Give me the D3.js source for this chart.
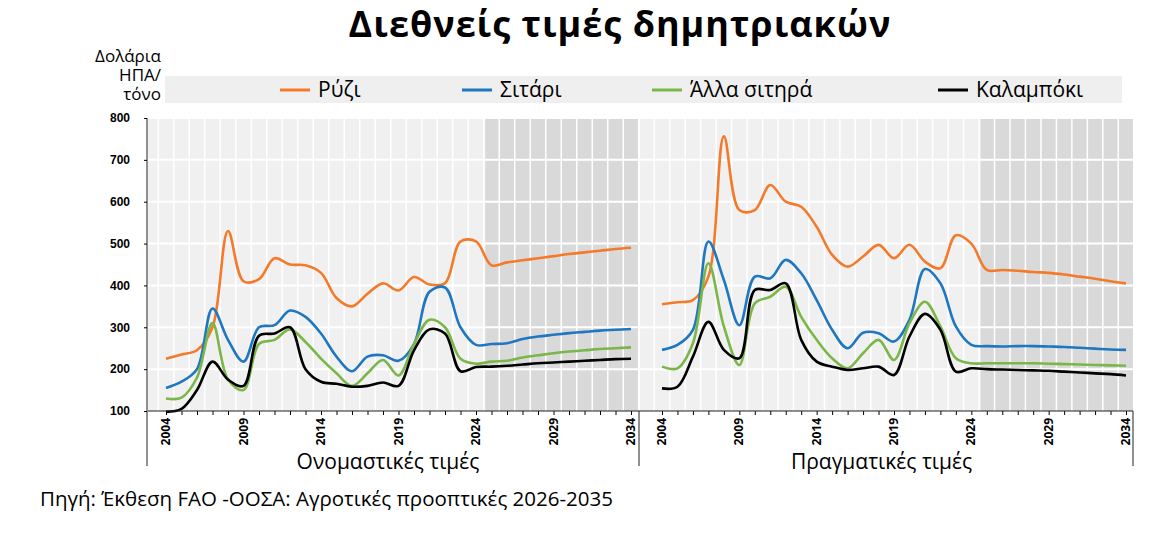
<!DOCTYPE html>
<html><head><meta charset="utf-8">
<script src="https://cdn.jsdelivr.net/npm/d3@7"></script>
<style>body{margin:0;background:#fff;font-family:"Open Sans",sans-serif}</style>
</head><body><svg id="c" width="1152" height="559"></svg>
<script>
const years = d3.range(2004, 2035);
const series = ['Ρύζι', 'Σιτάρι', 'Άλλα σιτηρά', 'Καλαμπόκι'];
const colors = ['#f47a2a', '#1f77c0', '#7ab648', '#000000'];
const yTicks = [100, 200, 300, 400, 500, 600, 700, 800];
const xTicks = [2004, 2009, 2014, 2019, 2024, 2029, 2034];

// nominal prices
const riceNom = [225,235,245,300,530,410,415,465,450,448,430,370,350,380,405,388,420,402,405,505,505,448,455,460,465,470,475,479,483,487,490];
const wheatNom = [155,170,200,345,270,218,300,305,340,325,285,230,195,230,233,220,260,385,395,300,258,260,262,272,278,282,286,289,292,294,296];
const otherNom = [130,132,180,310,175,150,260,270,295,265,225,190,160,190,222,185,260,318,300,225,213,218,220,228,233,238,242,245,248,250,252];
const maizeNom = [98,105,150,218,175,160,280,285,300,200,170,165,158,160,168,160,245,295,285,195,205,206,208,211,214,216,218,220,222,224,225];
// real prices
const riceReal = [355,360,365,421,756,580,580,640,600,588,540,473,445,469,497,465,497,457,441,520,500,437,437,435,432,430,426,421,416,410,405];
const wheatReal = [246,258,294,505,413,305,421,417,461,429,365,294,250,287,286,266,318,439,405,302,258,255,254,255,255,254,253,251,249,247,246];
const otherReal = [206,202,262,453,302,210,357,373,397,325,270,226,202,238,270,222,310,361,302,226,214,214,214,214,214,213,212,211,210,209,208];
const maizeReal = [154,158,230,313,246,226,389,389,405,270,218,206,198,202,206,186,278,332,294,194,202,200,199,198,197,196,194,192,190,188,185];

const svg = d3.select('#c');
svg.append('text').attr('x', 620).attr('y', 37).attr('text-anchor', 'middle')
  .style('font-size', '36px').style('font-weight', 'bold').style('letter-spacing', '1px')
  .text('Διεθνείς τιμές δημητριακών');

// unit label
['Δολάρια', 'ΗΠΑ/', 'τόνο'].forEach((t, i) => {
  svg.append('text').attr('x', 161).attr('y', 62 + i * 19).attr('text-anchor', 'end')
    .style('font-size', '17px').text(t);
});

// legend
svg.append('rect').attr('x', 165).attr('y', 76).attr('width', 957).attr('height', 27).attr('fill', '#efefef');
const legX = [280, 462, 652, 938];
series.forEach((s, i) => {
  svg.append('line').attr('x1', legX[i]).attr('x2', legX[i] + 30).attr('y1', 90).attr('y2', 90)
    .attr('stroke', colors[i]).attr('stroke-width', 3);
  svg.append('text').attr('x', legX[i] + 38).attr('y', 97).style('font-size', '21px').text(s);
});

const y = d3.scaleLinear().domain([100, 800]).range([411, 118]);
const panels = [
  {x0: 148, x1: 638, a: 166, b: 631, data: [riceNom, wheatNom, otherNom, maizeNom], label: 'Ονομαστικές τιμές'},
  {x0: 640, x1: 1133, a: 662, b: 1126, data: [riceReal, wheatReal, otherReal, maizeReal], label: 'Πραγματικές τιμές'}
];

panels.forEach(p => {
  const x = d3.scaleLinear().domain([2004, 2034]).range([p.a, p.b]);
  const g = svg.append('g');
  g.append('rect').attr('x', p.x0).attr('y', 118).attr('width', p.x1 - p.x0).attr('height', 293).attr('fill', '#f0f0f0');
  g.append('rect').attr('x', x(2024.6)).attr('y', 118).attr('width', p.x1 - x(2024.6)).attr('height', 293).attr('fill', '#d9d9d9');
  // grid
  d3.range(2003.5, 2035, 1).forEach(v => {
    if (x(v) > p.x0 && x(v) < p.x1)
      g.append('line').attr('x1', x(v)).attr('x2', x(v)).attr('y1', 118).attr('y2', 411).attr('stroke', '#fff').attr('stroke-width', 1.5);
  });
  yTicks.slice(1).forEach(v => {
    g.append('line').attr('x1', p.x0).attr('x2', p.x1).attr('y1', y(v)).attr('y2', y(v)).attr('stroke', '#fff').attr('stroke-width', 2);
  });
  const line = d3.line().x((d, i) => x(years[i])).y(d => y(d)).curve(d3.curveCatmullRom.alpha(0.5));
  p.data.forEach((d, i) => {
    g.append('path').attr('d', line(d)).attr('fill', 'none').attr('stroke', colors[i]).attr('stroke-width', 2.6);
  });
  const xa = g.append('g').attr('transform', 'translate(0,411)')
    .call(d3.axisBottom(x).tickValues(years).tickSize(4).tickFormat(''));
  xa.select('.domain').remove();
  xTicks.forEach(v => {
    g.append('text').attr('transform', `translate(${x(v) + 4},418) rotate(-90)`).attr('text-anchor', 'end')
      .style('font-size', '12px').style('font-weight', 'bold').text(v);
  });
  g.append('text').attr('x', (p.x0 + p.x1) / 2 - 5).attr('y', 469).attr('text-anchor', 'middle')
    .style('font-size', '21px').text(p.label);
});

// axes frame
svg.append('line').attr('x1', 148).attr('x2', 1133).attr('y1', 411).attr('y2', 411).attr('stroke', '#222');
[147, 639, 1133].forEach(v => svg.append('line').attr('x1', v).attr('x2', v)
  .attr('y1', v === 147 ? 118 : 411).attr('y2', 466).attr('stroke', '#222'));
const ya = svg.append('g').attr('transform', 'translate(147,0)').call(d3.axisLeft(y).tickValues(yTicks).tickSize(3));
ya.select('.domain').remove();
ya.selectAll('text').style('font-size', '12px').style('font-weight', 'bold').attr('x', -17)
  .style('font-family', 'Liberation Sans, sans-serif');

svg.append('text').attr('x', 40).attr('y', 506).style('font-size', '20.5px')
  .text('Πηγή: Έκθεση FAO -ΟΟΣΑ: Αγροτικές προοπτικές 2026-2035');
</script></body></html>
